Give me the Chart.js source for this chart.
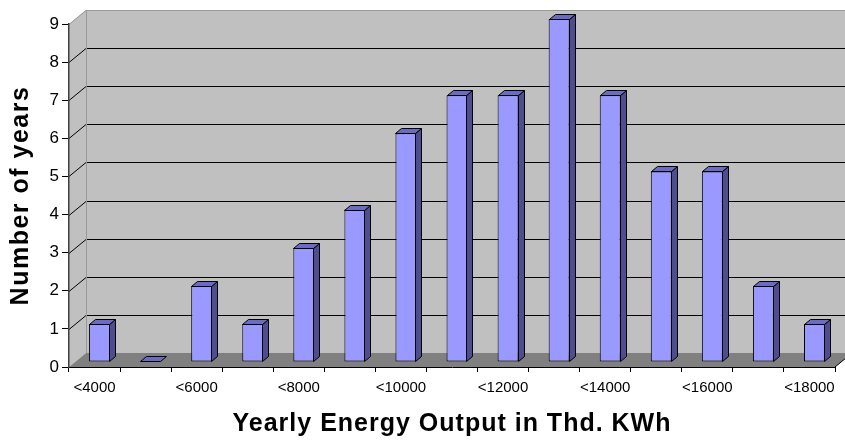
<!DOCTYPE html>
<html>
<head>
<meta charset="utf-8">
<script src="https://cdn.jsdelivr.net/npm/chart.js@4/dist/chart.umd.min.js"></script>
<style>
  html, body { margin: 0; padding: 0; background: #ffffff; }
  #wrap { width: 845px; height: 441px; position: relative; }
</style>
</head>
<body>
<div id="wrap"><canvas id="c" width="845" height="441"></canvas></div>
<script>
// ---- data ----
const categories = ['<4000','<5000','<6000','<7000','<8000','<9000','<10000','<11000','<12000','<13000','<14000','<15000','<16000','<17000','<18000'];
const yearCounts = [1, 0, 2, 1, 3, 4, 6, 7, 7, 9, 7, 5, 5, 2, 1];
const yTickValues = [0, 1, 2, 3, 4, 5, 6, 7, 8, 9];
const xTitle = 'Yearly Energy Output in Thd. KWh';
const yTitle = 'Number of years';

const FONT = '"Liberation Sans", Arial, sans-serif';
const WALL = { dx: 17, dy: -14 };
const BAR_SHIFT = { dx: 5, dy: -5 };
const BAR_DEPTH = { dx: 6, dy: -5 };

const box3d = {
  id: 'box3d',
  beforeDraw(chart) {
    // slightly wider letter spacing for the axis titles only
    ['x', 'y'].forEach(id => {
      const s = chart.scales[id];
      if (s && !s._spacedTitle) {
        const orig = s.drawTitle;
        s.drawTitle = function () {
          this.ctx.save();
          this.ctx.letterSpacing = id === 'x' ? '1px' : '1.5px';
          orig.call(this);
          this.ctx.restore();
        };
        s._spacedTitle = true;
      }
    });
    const ctx = chart.ctx;
    const { left: L, right: R, top: T, bottom: B } = chart.chartArea;
    const ys = chart.scales.y;
    const dx = WALL.dx, dy = WALL.dy;
    ctx.save();
    ctx.fillStyle = '#ffffff';
    ctx.fillRect(0, 0, chart.width, chart.height);
    // left wall
    ctx.fillStyle = '#c0c0c0';
    ctx.beginPath();
    ctx.moveTo(L, T); ctx.lineTo(L + dx, T + dy); ctx.lineTo(L + dx, B + dy); ctx.lineTo(L, B);
    ctx.closePath(); ctx.fill();
    // back wall
    ctx.fillRect(L + dx, T + dy, (R - L), (B - T));
    // floor
    ctx.fillStyle = '#808080';
    ctx.beginPath();
    ctx.moveTo(L, B); ctx.lineTo(L + dx, B + dy); ctx.lineTo(R + dx, B + dy); ctx.lineTo(R, B);
    ctx.closePath(); ctx.fill();
    // grid lines
    ctx.lineWidth = 1;
    yTickValues.forEach(v => {
      if (v === 0) return;
      const y = Math.round(ys.getPixelForValue(v)) + 0.5;
      ctx.strokeStyle = (v === yTickValues[yTickValues.length - 1]) ? '#999999' : '#000000';
      ctx.beginPath();
      ctx.moveTo(L, y); ctx.lineTo(L + dx, y + dy); ctx.lineTo(R + dx, y + dy);
      ctx.stroke();
    });
    // back wall left edge
    ctx.strokeStyle = '#999999';
    ctx.beginPath();
    ctx.moveTo(L + dx + 0.5, T + dy); ctx.lineTo(L + dx + 0.5, B + dy);
    ctx.stroke();
    // floor right edge
    ctx.strokeStyle = '#000000';
    ctx.beginPath();
    ctx.moveTo(R, B); ctx.lineTo(R + dx, B + dy);
    ctx.stroke();
    ctx.restore();
  },
  beforeDatasetsDraw(chart) {
    chart.ctx.save();
    chart.ctx.translate(BAR_SHIFT.dx, BAR_SHIFT.dy);
  },
  afterDatasetsDraw(chart) {
    const ctx = chart.ctx;
    const meta = chart.getDatasetMeta(0);
    ctx.lineWidth = 1;
    ctx.strokeStyle = '#000000';
    meta.data.forEach(bar => {
      const p = bar.getProps(['x', 'y', 'base', 'width'], true);
      const l = Math.round(p.x - p.width / 2) + 0.5;
      const r = Math.round(p.x + p.width / 2) - 0.5;
      const t = Math.round(p.y) + 0.5;
      const b = Math.round(p.base) - 0.5;
      const ddx = BAR_DEPTH.dx, ddy = BAR_DEPTH.dy;
      if (b - t > 1) {
        ctx.fillStyle = '#4d4d8f';
        ctx.beginPath();
        ctx.moveTo(r, t); ctx.lineTo(r + ddx, t + ddy); ctx.lineTo(r + ddx, b + ddy); ctx.lineTo(r, b);
        ctx.closePath(); ctx.fill(); ctx.stroke();
      }
      const tt = Math.min(t, b);
      ctx.fillStyle = '#6b6bc4';
      ctx.beginPath();
      ctx.moveTo(l, tt); ctx.lineTo(l + ddx, tt + ddy); ctx.lineTo(r + ddx, tt + ddy); ctx.lineTo(r, tt);
      ctx.closePath(); ctx.fill(); ctx.stroke();
    });
    ctx.restore();
  }
};

new Chart(document.getElementById('c'), {
  type: 'bar',
  data: {
    labels: categories,
    datasets: [{
      data: yearCounts,
      backgroundColor: '#9999ff',
      borderColor: '#000000',
      borderWidth: 1,
      borderSkipped: false,
      categoryPercentage: 1.0,
      barPercentage: 0.41
    }]
  },
  options: {
    responsive: false,
    animation: false,
    events: [],
    layout: { padding: { left: 0, right: 10, top: 24, bottom: 0 } },
    plugins: { legend: { display: false }, tooltip: { enabled: false }, title: { display: false } },
    scales: {
      x: {
        offset: true,
        afterFit(scale) { scale.height = 74; },
        grid: { display: true, drawOnChartArea: false, drawTicks: true, tickLength: 5, color: '#000000', offset: true },
        border: { display: true, color: '#000000', width: 1 },
        ticks: {
          autoSkip: false, maxRotation: 0, minRotation: 0, padding: 7,
          color: '#000000', font: { family: FONT, size: 15 },
          callback(value, index) { return index % 2 === 0 ? categories[index] : ''; }
        },
        title: { display: true, text: xTitle, color: '#000000', font: { family: FONT, size: 25, weight: 'bold' }, padding: { top: 0, bottom: 2 } }
      },
      y: {
        min: 0, max: 9,
        afterFit(scale) { scale.width = 69; },
        grid: { display: true, drawOnChartArea: false, drawTicks: true, tickLength: 7, color: '#000000' },
        border: { display: true, color: '#404040', width: 1.5 },
        ticks: {
          stepSize: 1, padding: 3, color: '#000000', font: { family: FONT, size: 17 }
        },
        title: { display: true, text: yTitle, color: '#000000', font: { family: FONT, size: 25, weight: 'bold' }, padding: { top: 6, bottom: 0 } }
      }
    }
  },
  plugins: [box3d]
});
</script>
</body>
</html>
